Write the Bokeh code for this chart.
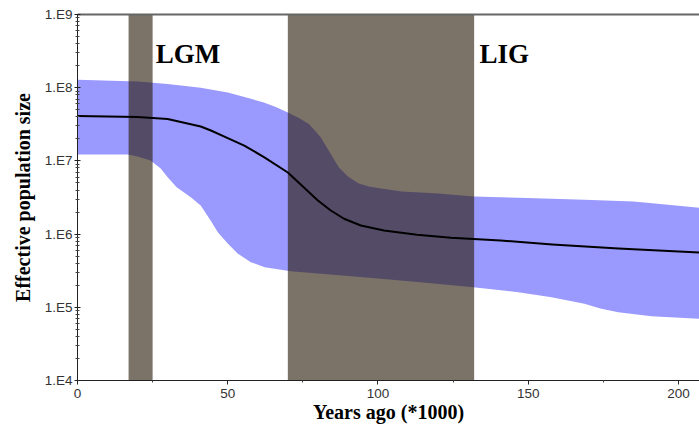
from bokeh.plotting import figure
from bokeh.models import FixedTicker, LinearAxis, Range1d
from bokeh.embed import file_html
from bokeh.resources import INLINE

# ---- data (years ago in thousands; effective population size) ----
median_x = [0, 20, 30, 41, 44.4, 50, 55.5, 62.2, 70, 75, 80, 84.3, 88.7, 94.3, 102, 113, 124.3, 140.8,
            158, 180, 207]
median_y = [4.1e7, 3.98e7, 3.74e7, 2.95e7, 2.60e7, 2.05e7, 1.62e7, 1.12e7, 6.95e6, 4.47e6, 2.88e6, 2.10e6,
            1.62e6, 1.31e6, 1.12e6, 9.78e5, 8.90e5, 8.18e5, 7.21e5, 6.36e5, 5.61e5]

upper_x = [0, 20, 30, 41, 50, 57.7, 62, 66, 70, 74, 77, 79, 81, 83, 85, 87, 90, 93.6, 97, 101, 108, 120,
           131.7, 146.7, 168.7, 185, 193, 201.7, 207]
upper_y = [1.28e8, 1.22e8, 1.12e8, 9.97e7, 8.6e7, 7.05e7, 6.28e7, 5.45e7, 4.58e7, 3.79e7, 3.19e7, 2.60e7,
           2.09e7, 1.52e7, 1.11e7, 8.12e6, 6.12e6, 4.91e6, 4.47e6, 4.20e6, 3.82e6, 3.59e6,
           3.26e6, 3.13e6, 2.94e6, 2.79e6, 2.59e6, 2.40e6, 2.29e6]

lower_x = [0, 16.7, 20, 24.3, 27.7, 30, 33, 37.7, 41, 44.3, 46.7, 50, 53.3, 57.7, 62.3, 71, 80, 100, 115,
           131.7, 146.7, 157.8, 168.7, 174, 180, 191, 207]
lower_y = [1.22e7, 1.22e7, 1.15e7, 1.01e7, 7.87e6, 5.99e6, 4.37e6, 3.19e6, 2.46e6, 1.53e6, 1.06e6, 7.44e5,
           5.43e5, 4.13e5, 3.53e5, 3.11e5, 2.90e5, 2.47e5, 2.18e5,
           1.88e5, 1.61e5, 1.37e5, 1.12e5, 9.63e4, 8.57e4, 7.56e4, 6.97e4]

period_names = ["LGM", "LIG"]
period_start = [17, 70]
period_end = [25, 132]

x_ticks = [0, 50, 100, 150, 200]
x_minor_ticks = [25, 75, 125, 175]
y_ticks = [10**4, 10**5, 10**6, 10**7, 10**8, 10**9]
y_tick_labels = ["1.E4", "1.E5", "1.E6", "1.E7", "1.E8", "1.E9"]

X_MAX = 207

p = figure(width=699, height=426, y_axis_type="log",
           x_range=Range1d(0, X_MAX), y_range=Range1d(1e4, 1e9),
           output_backend="svg", toolbar_location=None,
           min_border_left=77, min_border_right=0, min_border_top=14, min_border_bottom=46)
p.outline_line_color = None
p.grid.visible = False
p.background_fill_color = "white"

# credible interval band
band_x = upper_x + lower_x[::-1]
band_y = upper_y + lower_y[::-1]
p.patch(band_x, band_y, fill_color="#9a99fd", line_color=None)

# glacial periods
p.quad(left=period_start, right=period_end, bottom=[1e4] * 2, top=[1e9] * 2,
       fill_color="#2a1c0c", fill_alpha=0.62, line_color=None)

# median
p.line(median_x, median_y, line_color="black", line_width=2, line_join="round")

# period labels
p.text(x=[period_end[0] + 1, period_end[1] + 1.8], y=[2.9e8, 2.9e8], text=period_names,
       text_font="Liberation Serif", text_font_style="bold", text_font_size="27px",
       text_color="black", text_baseline="alphabetic", text_align="left")

# axes
xa = p.xaxis[0]
xa.ticker = FixedTicker(ticks=x_ticks, minor_ticks=x_minor_ticks)
xa.axis_label = "Years ago (*1000)"
ya = p.yaxis[0]
ya.ticker = FixedTicker(ticks=y_ticks, minor_ticks=[m * 10**k for k in range(4, 9) for m in range(2, 10)])
ya.major_label_overrides = dict(zip(y_ticks, y_tick_labels))
ya.axis_label = "Effective population size"

for ax in (xa, ya):
    ax.axis_line_color = "#222222"
    ax.major_tick_line_color = "#222222"
    ax.minor_tick_line_color = "#444444"
    ax.major_label_text_font = "Liberation Sans"
    ax.major_label_text_font_size = "13.5px"
    ax.major_label_text_color = "#333333"
    ax.axis_label_text_font = "Liberation Serif"
    ax.axis_label_text_font_style = "bold"
    ax.axis_label_text_font_size = "20px"
    ax.axis_label_text_color = "black"

xa.major_tick_in = 0
xa.major_tick_out = 4
xa.minor_tick_in = 0
xa.minor_tick_out = 2
xa.major_label_standoff = 4
xa.axis_label_standoff = 0

ya.major_tick_in = 3
ya.major_tick_out = 3
ya.minor_tick_in = 2
ya.minor_tick_out = 2
ya.major_label_standoff = 2
ya.axis_label_standoff = 8

top = LinearAxis(ticker=FixedTicker(ticks=[]), axis_line_color="#666666", axis_line_width=2,
                 major_tick_line_color=None, minor_tick_line_color=None,
                 major_label_text_font_size="0px", major_label_standoff=0)
p.add_layout(top, "above")

open("out.html", "w").write(file_html(p, INLINE))
